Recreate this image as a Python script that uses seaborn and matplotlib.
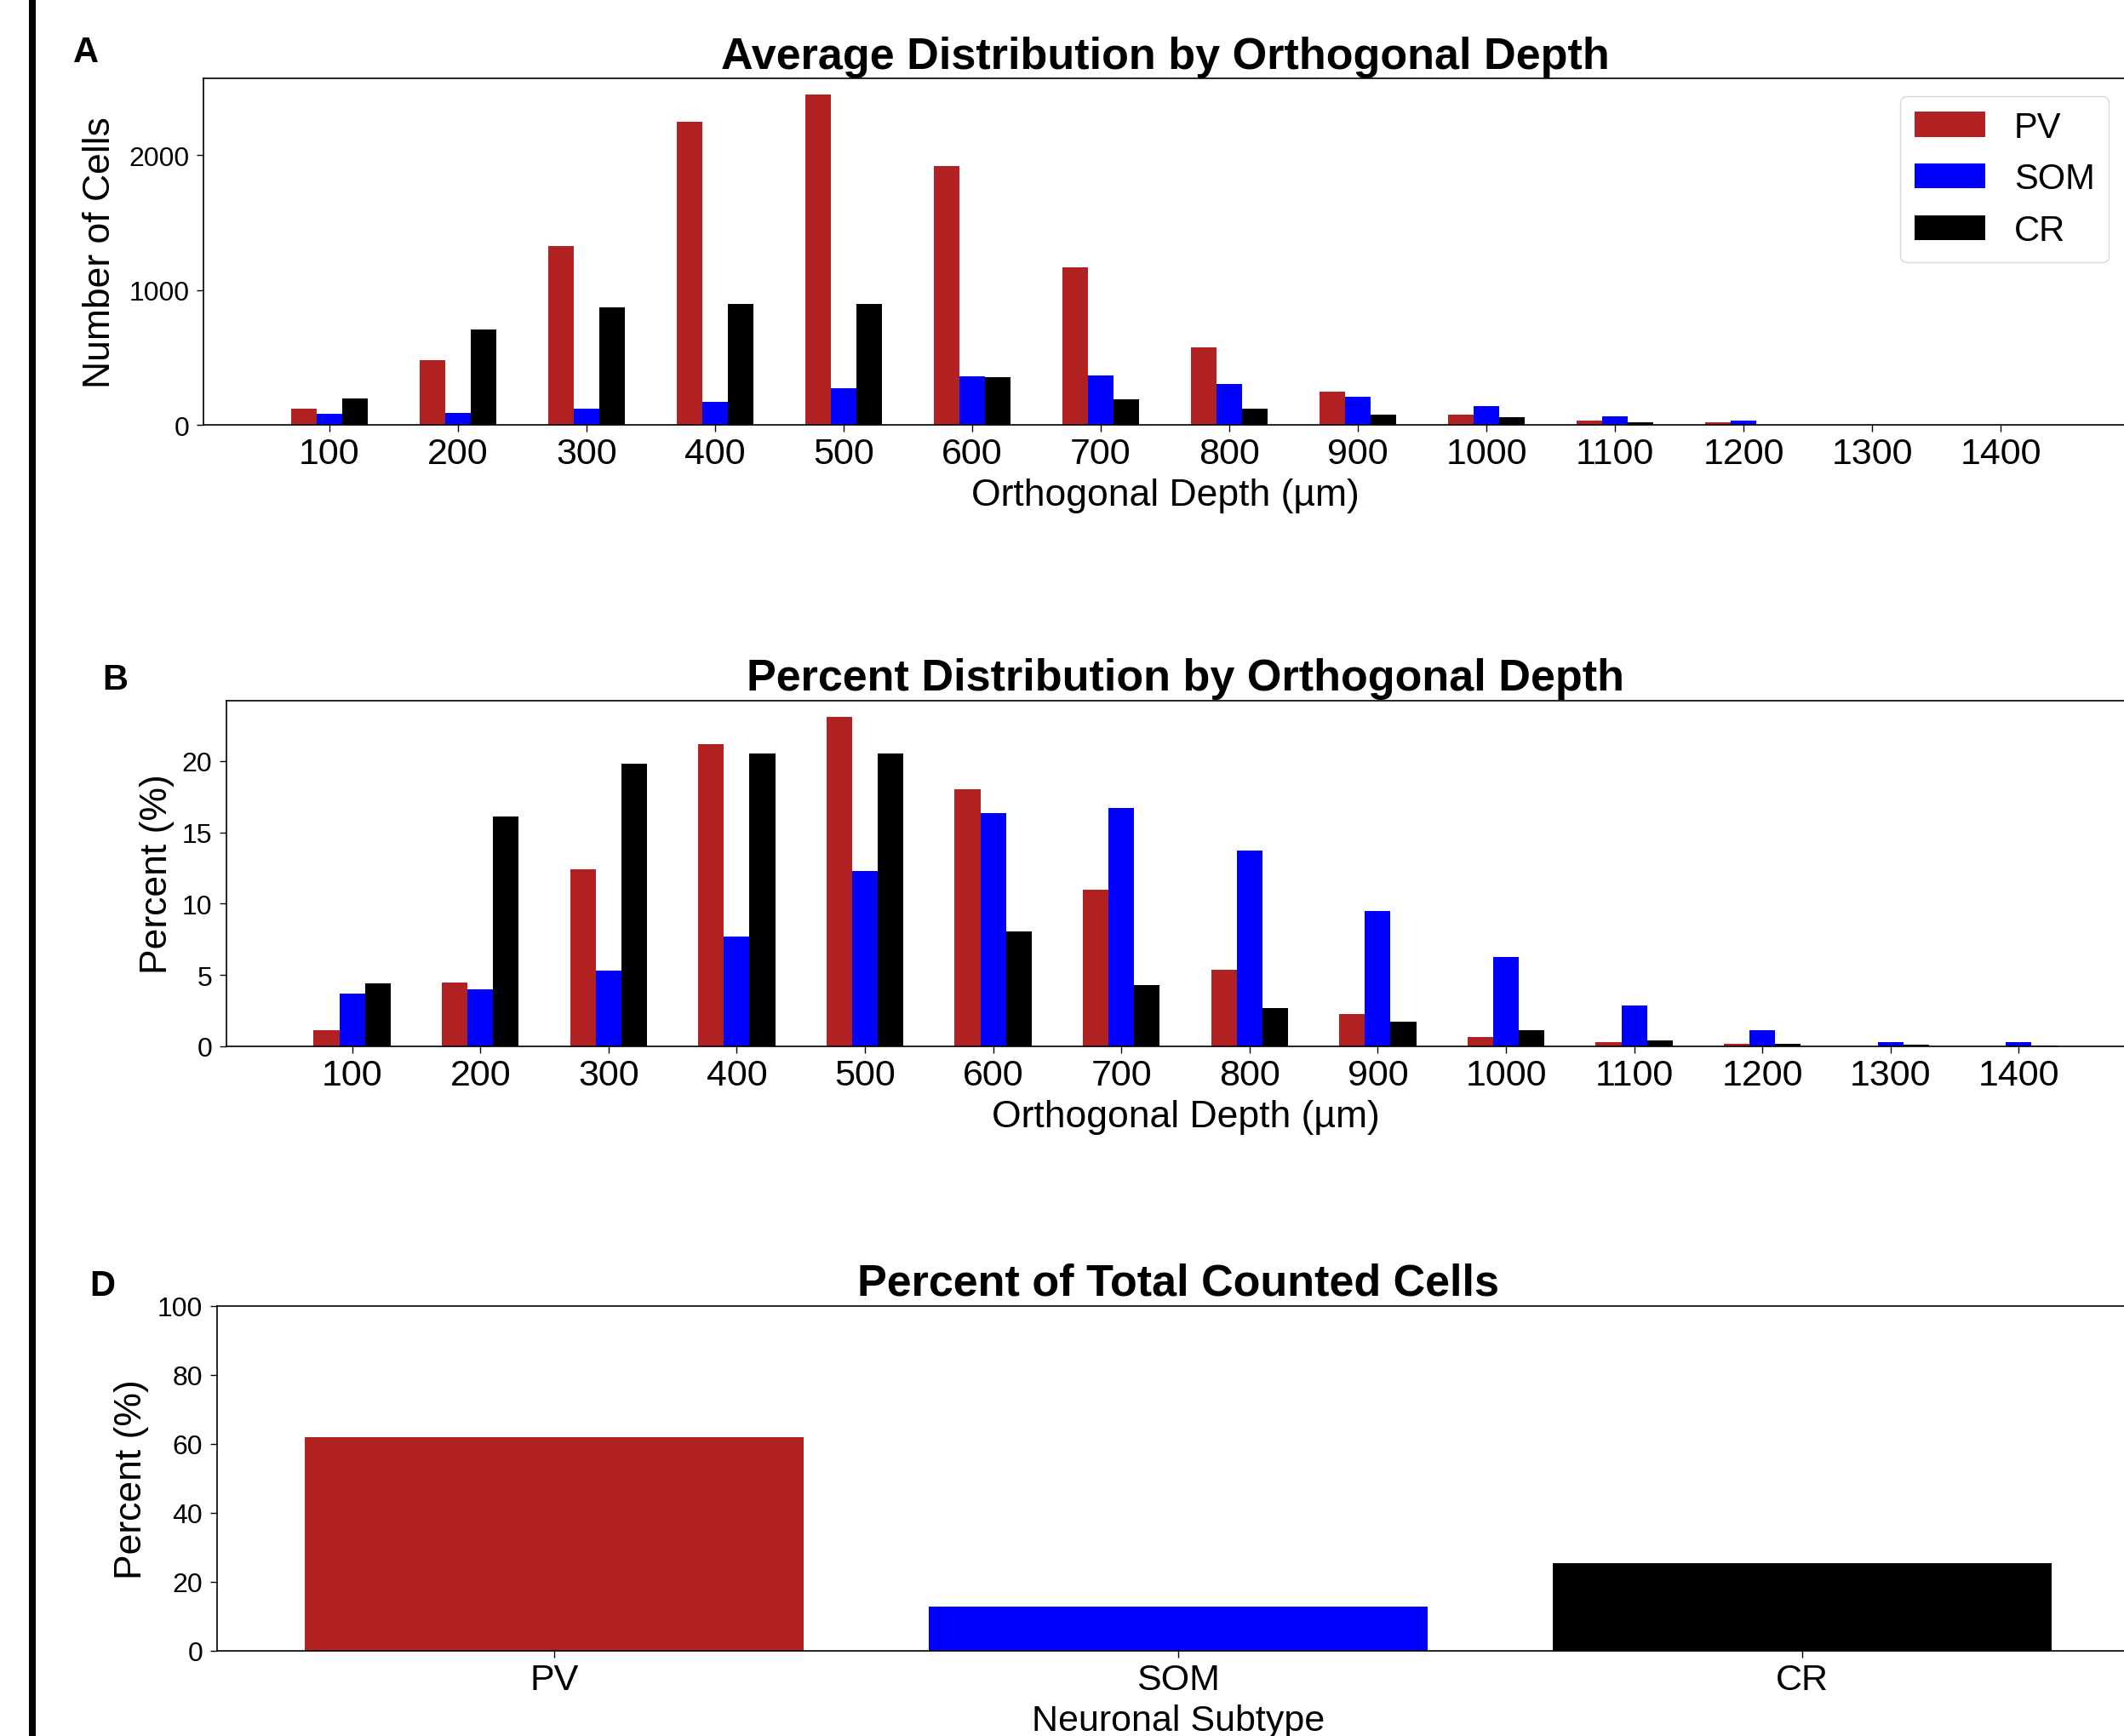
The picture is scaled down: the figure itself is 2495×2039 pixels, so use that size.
import numpy as np
import pandas as pd
import matplotlib
matplotlib.use("Agg")
import matplotlib.pyplot as plt
from matplotlib.lines import Line2D
import seaborn as sns

plt.rcParams["font.family"] = ["Liberation Sans", "DejaVu Sans"]
plt.rcParams["axes.linewidth"] = 1.2
plt.rcParams["xtick.major.width"] = 1.0
plt.rcParams["ytick.major.width"] = 1.0

# Data
depths = [100, 200, 300, 400, 500, 600, 700, 800, 900, 1000, 1100, 1200, 1300, 1400]
subtypes = ["PV", "SOM", "CR"]
colors = {"PV": "#B22222", "SOM": "#0000FF", "CR": "#000000"}

count_pv = [122, 479, 1324, 2252, 2449, 1923, 1167, 574, 247, 75, 32, 20, 2, 1]
count_som = [82, 90, 122, 172, 272, 362, 369, 304, 209, 140, 65, 30, 3, 3]
count_cr = [197, 706, 870, 898, 898, 354, 190, 122, 77, 55, 22, 3, 2, 1]

pct_pv = [1.11, 4.46, 12.42, 21.2, 23.07, 18.04, 10.97, 5.35, 2.28, 0.68, 0.27, 0.16, 0.02, 0.01]
pct_som = [3.69, 4.0, 5.3, 7.69, 12.29, 16.34, 16.68, 13.72, 9.49, 6.26, 2.84, 1.16, 0.27, 0.27]
pct_cr = [4.39, 16.13, 19.8, 20.5, 20.5, 8.08, 4.28, 2.66, 1.75, 1.16, 0.39, 0.16, 0.09, 0.05]

total_pct = [61.9, 12.8, 25.5]


def long_table(pv, som, cr, name):
    rows = []
    for sub, vals in zip(subtypes, [pv, som, cr]):
        for d, v in zip(depths, vals):
            rows.append({"depth": d, "subtype": sub, name: v})
    return pd.DataFrame(rows)


df_count = long_table(count_pv, count_som, count_cr, "count")
df_pct = long_table(pct_pv, pct_som, pct_cr, "pct")
df_total = pd.DataFrame({"subtype": subtypes, "pct": total_pct})

W, H = 2495, 2040
fig = plt.figure(figsize=(W / 100, H / 100), dpi=100)

ax_a = fig.add_axes([239 / W, 1 - 500 / H, 2259 / W, 407 / H])
ax_b = fig.add_axes([266 / W, 1 - 1230 / H, 2253 / W, 406 / H])
ax_d = fig.add_axes([255 / W, 1 - 1940 / H, 2258 / W, 405 / H])


def style_axes(ax, xtick_size=31, ytick_size=23):
    ax.tick_params(axis="x", labelsize=xtick_size, length=6, pad=4, colors="black")
    ax.tick_params(axis="y", labelsize=ytick_size, length=6, pad=6, colors="black")
    for s in ax.spines.values():
        s.set_color("black")


# A: average counts by depth
sns.barplot(data=df_count, x="depth", y="count", hue="subtype", hue_order=subtypes,
            palette=colors, native_scale=True, width=0.6, saturation=1,
            errorbar=None, linewidth=0, ax=ax_a)
ax_a.set_xlim(depths[0] - 98, depths[-1] + 98)
ax_a.set_ylim(0, max(count_pv) * 1.05)
ax_a.set_xticks(depths)
ax_a.set_xticklabels([str(d) for d in depths])
ax_a.set_yticks([0, 1000, 2000])
ax_a.set_title("Average Distribution by Orthogonal Depth", fontsize=37.5,
               fontweight="bold", pad=9)
ax_a.set_xlabel("Orthogonal Depth (µm)", fontsize=32, labelpad=6)
ax_a.set_ylabel("Number of Cells", fontsize=32)
ax_a.yaxis.set_label_coords(-0.0445, 0.5)
style_axes(ax_a)
old = ax_a.get_legend()
handles = old.legend_handles
labels = [t.get_text() for t in old.get_texts()]
ax_a.legend(handles, labels, loc="upper right", fontsize=30, frameon=True)

# B: percent by depth
sns.barplot(data=df_pct, x="depth", y="pct", hue="subtype", hue_order=subtypes,
            palette=colors, native_scale=True, width=0.6, saturation=1,
            errorbar=None, linewidth=0, legend=False, ax=ax_b)
ax_b.set_xlim(depths[0] - 98, depths[-1] + 98)
ax_b.set_ylim(0, max(pct_pv) * 1.05)
ax_b.set_xticks(depths)
ax_b.set_xticklabels([str(d) for d in depths])
ax_b.set_yticks([0, 5, 10, 15, 20])
ax_b.set_title("Percent Distribution by Orthogonal Depth", fontsize=37.5,
               fontweight="bold", pad=9)
ax_b.set_xlabel("Orthogonal Depth (µm)", fontsize=32, labelpad=6)
ax_b.set_ylabel("Percent (%)", fontsize=32)
ax_b.yaxis.set_label_coords(-0.027, 0.5)
style_axes(ax_b)

# D: percent of total counted cells
sns.barplot(data=df_total, x="subtype", y="pct", hue="subtype", order=subtypes,
            hue_order=subtypes, palette=colors, saturation=1, width=0.8,
            errorbar=None, linewidth=0, legend=False, ax=ax_d)
ax_d.set_xlim(-0.54, len(subtypes) - 0.46)
ax_d.set_ylim(0, 100)
ax_d.set_yticks([0, 20, 40, 60, 80, 100])
ax_d.set_title("Percent of Total Counted Cells", fontsize=37.5,
               fontweight="bold", pad=10)
ax_d.set_xlabel("Neuronal Subtype", fontsize=31, labelpad=6)
ax_d.set_ylabel("Percent (%)", fontsize=32)
ax_d.yaxis.set_label_coords(-0.0355, 0.5)
style_axes(ax_d)

# panel letters and left rule
fig.text(86 / W, 1 - 73 / H, "A", fontsize=30, fontweight="bold", va="baseline")
fig.text(120 / W, 1 - 810 / H, "B", fontsize=30, fontweight="bold", va="baseline")
fig.text(105 / W, 1 - 1522 / H, "D", fontsize=30, fontweight="bold", va="baseline")
fig.add_artist(Line2D([38 / W, 38 / W], [0, 1], color="black", lw=5.8,
                      transform=fig.transFigure))

fig.savefig("out.png", dpi=100)
